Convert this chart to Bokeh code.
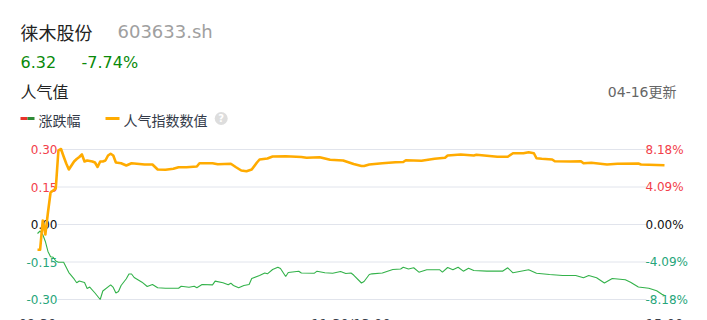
from bokeh.plotting import figure
from bokeh.models import Range1d
from bokeh.core.properties import value
from bokeh.embed import file_html
from bokeh.resources import INLINE

# ---------------- data ----------------
title_name = "徕木股份"
title_code = "603633.sh"
price = "6.32"
change = "-7.74%"
section = "人气值"
updated = "04-16更新"
legend_labels = ["涨跌幅", "人气指数数值"]

x_ticks = [0, 120, 240]
x_tick_labels = ["09:30", "11:30/13:00", "15:00"]
left_ticks = [0.30, 0.15, 0.00, -0.15, -0.30]
left_labels = ["0.30", "0.15", "0.00", "-0.15", "-0.30"]
right_labels = ["8.18%", "4.09%", "0.00%", "-4.09%", "-8.18%"]
pct_max = 8.18

# popularity index (left scale), minutes since open
pop_min = [0, 1, 2, 3, 4, 5, 6, 7, 8, 9, 10, 11, 12, 13, 14, 15, 16, 17, 18, 19, 20,
           21, 22, 23, 24, 25, 26, 27, 28, 29, 30, 32, 34, 36, 38, 41, 44, 46, 49, 52,
           54, 57, 61, 62, 67, 69, 74, 76, 78, 80, 82, 84, 85, 88, 90, 95, 101, 103,
           108, 112, 117, 119, 121, 124, 125, 127, 132, 137, 140, 141, 147, 152, 156,
           157, 162, 167, 168, 172, 176, 180, 182, 186, 188, 190, 191, 193, 197, 198,
           204, 208, 209, 212, 218, 222, 230, 231, 240]
pop_val = [-0.101, -0.101, 0.016, -0.04, 0.048, 0.128, 0.136, 0.144, 0.296, 0.302,
           0.272, 0.244, 0.22, 0.236, 0.252, 0.262, 0.27, 0.28, 0.252, 0.256,
           0.254, 0.252, 0.248, 0.23, 0.252, 0.252, 0.256, 0.276, 0.283, 0.276,
           0.248, 0.245, 0.236, 0.245, 0.243, 0.24, 0.24, 0.22, 0.219, 0.223, 0.229, 0.229,
           0.232, 0.245, 0.245, 0.241, 0.243, 0.229, 0.216, 0.213, 0.22, 0.248, 0.26, 0.264, 0.272, 0.273,
           0.27, 0.267, 0.269, 0.259, 0.256, 0.249, 0.242, 0.234, 0.234, 0.24,
           0.245, 0.249, 0.25, 0.257, 0.255, 0.263, 0.267, 0.276, 0.28, 0.276, 0.279, 0.275, 0.271, 0.271,
           0.285, 0.285, 0.289, 0.285, 0.265, 0.263, 0.26, 0.253, 0.252, 0.253, 0.245, 0.247, 0.24,
           0.243, 0.244, 0.24, 0.237]

# price change in % (right scale)
chg_min = [0, 1, 2, 3, 4, 5, 6, 7, 8, 10, 12, 14, 15, 16, 18, 19, 20, 22, 24, 25,
           28, 29, 30, 31, 32, 34, 35, 36, 37, 40, 42, 44, 46, 49, 54, 55, 58, 60, 61, 63,
           67, 68, 71, 73, 74, 75, 77, 79, 81, 82, 85, 87, 88, 90, 92, 93, 95, 96, 100, 101,
           106, 107, 110, 113, 116, 118, 120, 121, 124, 125, 127, 128, 132, 136, 139, 140,
           142, 144, 146, 149, 154, 155, 157, 159, 161, 163, 165, 167, 172, 178, 180, 182,
           188, 191, 196, 201, 206, 209, 211, 214, 217, 220, 225, 227, 230, 234, 237, 239, 240]
chg_pct = [-0.98, -0.71, -1.09, -1.85, -2.94, -3.52, -3.57, -3.98, -4.11, -4.11,
           -5.24, -5.94, -6.36, -6.16, -6.33, -6.98, -6.82, -7.47, -8.18, -7.25,
           -6.58, -6.87, -7.47, -7.31, -6.65, -5.92, -5.40, -5.40, -5.78, -6.29,
           -6.76, -6.54, -6.90, -6.95, -6.95, -6.73, -6.84, -6.73, -6.90, -6.54,
           -6.58, -6.18, -6.36, -6.58, -6.40, -6.65, -6.90, -6.65, -6.54, -5.89,
           -5.56, -5.29, -5.38, -4.91, -4.66, -4.80, -5.67, -5.24, -5.10, -5.29,
           -5.31, -5.09, -5.27, -5.31, -5.13, -5.34, -5.29, -5.51, -6.38, -6.22,
           -5.45, -5.38, -5.29, -4.91, -4.85, -4.66, -4.85, -4.72, -5.20, -4.94,
           -4.94, -5.20, -4.69, -4.94, -4.66, -5.09, -4.77, -5.02, -5.09, -5.09,
           -4.72, -5.27, -4.94, -5.31, -5.45, -5.56, -5.56, -5.81, -5.56, -5.81,
           -6.38, -5.89, -6.03, -6.29, -6.82, -6.95, -7.23, -7.60, -7.74]

# ---------------- layout helpers (pixel -> data) ----------------
W, H = 707, 320
PX0, PXM = 37.0, 2.6125      # px of minute 0, px per minute
PY0, PYV = 224.0, 250.0      # px of value 0, px per unit
PCT = pct_max / 0.30


def X(px):
    return (px - PX0) / PXM


def Y(py):
    return (PY0 - py) / PYV


p = figure(width=W, height=H, output_backend="svg", toolbar_location=None,
           x_range=Range1d(X(0), X(W)), y_range=Range1d(Y(H), Y(0)),
           x_axis_location=None, y_axis_location=None,
           min_border=0, min_border_left=0, min_border_right=0,
           min_border_top=0, min_border_bottom=0)
p.extra_y_ranges = {"pct": Range1d(Y(H) * PCT, Y(0) * PCT)}
p.outline_line_color = None
p.grid.visible = False
p.background_fill_color = "white"
p.border_fill_color = "white"

LAT = value("DejaVu Sans")
CJK = value("Noto Sans CJK SC")
MIX = value("DejaVu Sans, Noto Sans CJK SC")

RED = "#f2404a"
TEAL = "#26a57a"

# gridlines
p.segment(x0=[X(57)] * len(left_ticks), x1=[X(646)] * len(left_ticks),
          y0=left_ticks, y1=left_ticks, line_color="#e1e4ec", line_width=1)

lcol = [RED if t > 0 else ("#111111" if t == 0 else TEAL) for t in left_ticks]
p.text(x=[X(57)] * len(left_ticks), y=left_ticks, text=left_labels,
       text_align="right", text_baseline="middle", text_color=lcol,
       text_font=LAT, text_font_size="12px")
p.text(x=[X(645)] * len(left_ticks), y=left_ticks, text=right_labels,
       text_align="left", text_baseline="middle", text_color=lcol,
       text_font=LAT, text_font_size="12px")

# x tick labels (partly cut by the window bottom)
p.text(x=x_ticks, y=[Y(322.5)] * len(x_ticks), text=x_tick_labels,
       text_align="center", text_baseline="middle", text_color="#3a3f4b",
       text_font=LAT, text_font_size="13px")

# series
p.line(x=chg_min, y=chg_pct, y_range_name="pct", line_color="#33b24a", line_width=1.1)
p.line(x=pop_min, y=pop_val, line_color="#ffab00", line_width=2.6, line_join="round")

# header
p.text(x=[X(20)], y=[Y(31.5)], text=[title_name], text_font=CJK, text_font_size="18px",
       text_color="#222222", text_baseline="middle")
p.text(x=[X(117)], y=[Y(31)], text=[title_code], text_font=LAT, text_font_size="18px",
       text_color="#a0a0a0", text_baseline="middle")
p.text(x=[X(20)], y=[Y(61.5)], text=[price], text_font=LAT, text_font_size="16px",
       text_color="#0a8a0a", text_baseline="middle")
p.text(x=[X(81)], y=[Y(61.5)], text=[change], text_font=LAT, text_font_size="16px",
       text_color="#0a8a0a", text_baseline="middle")
p.text(x=[X(20)], y=[Y(90)], text=[section], text_font=CJK, text_font_size="16px",
       text_color="#222222", text_baseline="middle")
p.text(x=[X(676)], y=[Y(91)], text=[updated], text_font=MIX, text_font_size="14px",
       text_color="#666666", text_baseline="middle", text_align="right")

# legend
p.segment(x0=[X(20)], x1=[X(27)], y0=[Y(118)], y1=[Y(118)], line_color="#e8332a",
          line_width=3)
p.segment(x0=[X(27)], x1=[X(34)], y0=[Y(118)], y1=[Y(118)], line_color="#2e8a36",
          line_width=3)
p.segment(x0=[X(105)], x1=[X(119)], y0=[Y(118)], y1=[Y(118)], line_color="#ffab00",
          line_width=3)
p.text(x=[X(38), X(123)], y=[Y(119)] * 2, text=legend_labels, text_font=CJK,
       text_font_size="14px", text_color="#333a48", text_baseline="middle")
p.scatter(x=[X(220.7)], y=[Y(118)], size=13, marker="circle",
          fill_color="#dddddd", line_color=None)
p.text(x=[X(220.7)], y=[Y(118)], text=["?"], text_font=LAT, text_font_size="10px",
       text_font_style="bold", text_color="white", text_align="center",
       text_baseline="middle")

open("out.html", "w").write(file_html(p, INLINE))
